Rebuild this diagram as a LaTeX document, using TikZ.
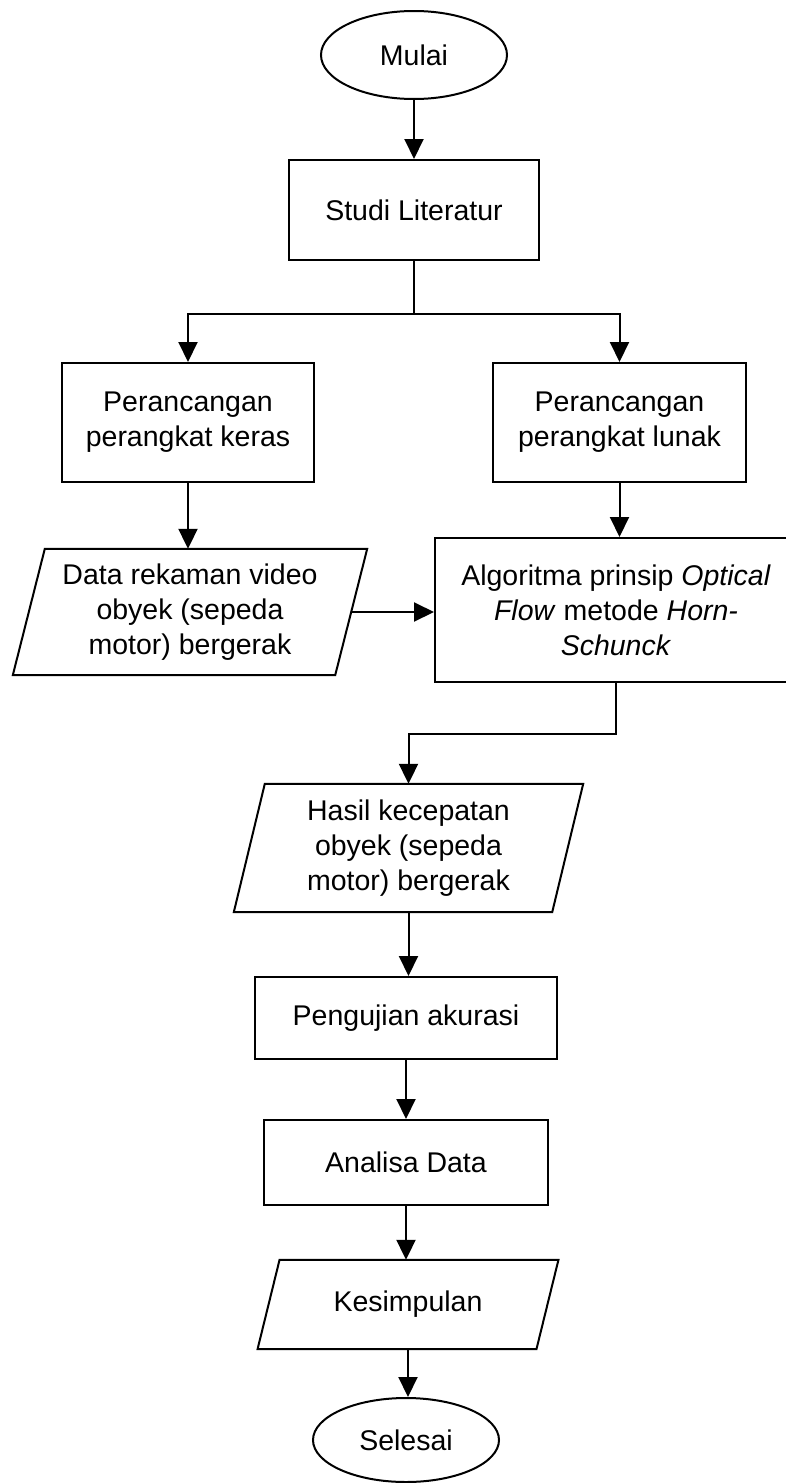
\documentclass[tikz,border=0pt]{standalone}
\usepackage{fontspec}
\setmainfont{Liberation Sans}
\usetikzlibrary{shapes.geometric,arrows.meta,calc}

\tikzset{
  base/.style={inner sep=0pt, align=center, font=\fontsize{28.5}{35}\selectfont},
  process/.style={base, draw, line width=2pt, rectangle},
  terminal/.style={base, draw, line width=2pt, ellipse, minimum width=186pt, minimum height=88pt},
  inout/.style={base, rectangle},
  line/.style={line width=2pt, line join=miter},
  flow/.style={line, -{Triangle[length=20pt,width=19pt]}}
}

\begin{document}
\begin{tikzpicture}[x=1pt,y=-1pt]
\useasboundingbox (0,0) rectangle (786,1483);
\clip (0,0) rectangle (786,1483);
\fill[white] (0,0) rectangle (786,1483);

% start / end
\node[terminal] (mulai) at (414,55) {Mulai};
\node[terminal, minimum height=84pt] (selesai) at (406,1440) {Selesai};

% process boxes
\node[process, minimum width=250pt, minimum height=100pt] (studi) at (414,210) {Studi Literatur};
\node[process, minimum width=252pt, minimum height=119pt] (keras) at (188,422.5) {Perancangan\\perangkat keras};
\node[process, minimum width=253pt, minimum height=119pt] (lunak) at (619.5,422.5) {Perancangan\\perangkat lunak};
\node[process, minimum width=362pt, minimum height=144pt] (algo) at (616,610)
  {Algoritma prinsip \textit{Optical}\\\textit{Flow} metode \textit{Horn-}\\\textit{Schunck}};
\node[process, minimum width=302pt, minimum height=82pt] (uji) at (406,1018) {Pengujian akurasi};
\node[process, minimum width=284pt, minimum height=85pt] (analisa) at (406,1162.5) {Analisa Data};

% input / output blocks (outline drawn below)
\node[inout, minimum width=322pt, minimum height=126pt] (data) at (190,612)
  {Data rekaman video\\obyek (sepeda\\motor) bergerak};
\node[inout, minimum width=318pt, minimum height=128pt] (hasil) at (408.5,848)
  {Hasil kecepatan\\obyek (sepeda\\motor) bergerak};
\node[inout, minimum width=278.5pt, minimum height=89pt] (simpul) at (408,1304.5) {Kesimpulan};

\foreach \n/\s in {data/16, hasil/15.5, simpul/11}
  \draw[line] ($(\n.north west)+(\s,0)$) -- ($(\n.north east)+(\s,0)$)
    -- ($(\n.south east)+(-\s,0)$) -- ($(\n.south west)+(-\s,0)$) -- cycle;

% connectors
\draw[flow] (mulai.south) -- (studi.north);
\draw[line] (studi.south) -- ++(0,53) coordinate (br);
\draw[flow] (br) -| (keras.north);
\draw[flow] (br) -| (lunak.north);
\draw[flow] (keras.south) -- (keras.south |- data.north);
\draw[flow] (lunak.south) -- (lunak.south |- algo.north);
\draw[flow] (data.east) -- (data.east -| algo.west);
\draw[flow] (algo.south) -- ++(0,51) -| (hasil.north);
\draw[flow] (hasil.south) -- (hasil.south |- uji.north);
\draw[flow] (uji.south) -- (analisa.north);
\draw[flow] (analisa.south) -- (analisa.south |- simpul.north);
\draw[flow] (simpul.south) -- (simpul.south |- selesai.north);
\end{tikzpicture}
\end{document}
